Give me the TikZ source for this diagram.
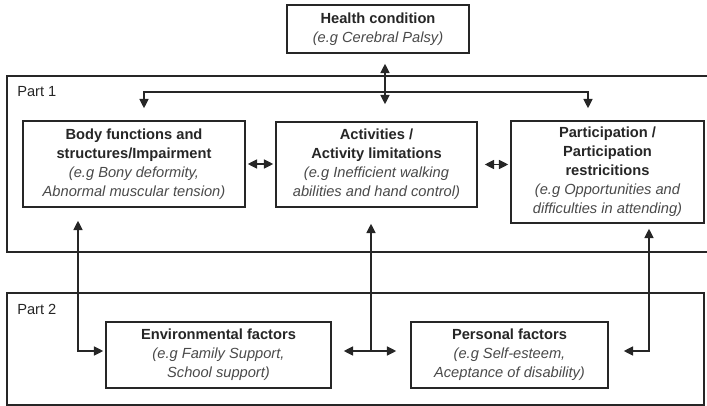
\documentclass[tikz,border=0pt]{standalone}
\usepackage{fontspec}
\setmainfont{Liberation Sans}
\usepackage{xcolor}
\definecolor{ink}{HTML}{262626}
\definecolor{note}{HTML}{4A4A4A}
\usepackage{tikz}
\usetikzlibrary{arrows.meta,positioning,calc}
\newcommand{\egline}[1]{{\color{note}\itshape #1}}
\tikzset{
  >={Triangle[length=7pt,width=6.8pt]},
  box/.style   ={draw=ink,line width=1.1pt,fill=white,align=center,
                 inner sep=2pt,text=ink},
  frame/.style ={draw=ink,line width=1.1pt},
  link/.style  ={draw=ink,line width=1.1pt},
  lbl/.style   ={text=ink,inner sep=1.5pt,anchor=west},
}

\begin{document}
\begin{tikzpicture}[x=0.75pt,y=-0.75pt,font=\fontsize{11}{14.25}\selectfont]
\useasboundingbox (0,0) rectangle (707,406);
% part frames
\draw[frame] (7,76) rectangle (712,252);
\draw[frame] (7,293) rectangle (704,405);
\node[lbl] (p1lbl) at (15,92) {Part 1};
\node[lbl] (p2lbl) at (15,309) {Part 2};
% boxes
\node[box,minimum width=136.5pt,minimum height=36pt] (health) at (378,29)
  {\textbf{Health condition}\\ \egline{(e.g Cerebral Palsy)}};
\node[box,minimum width=166.5pt,minimum height=64.5pt] (body) at (134,164)
  {\textbf{Body functions and}\\ \textbf{structures/Impairment}\\
   \egline{(e.g Bony deformity,}\\ \egline{Abnormal muscular tension)}};
\node[box,minimum width=150.75pt,minimum height=63.75pt] (act) at (376.5,164.5)
  {\textbf{Activities /}\\ \textbf{Activity limitations}\\
   \egline{(e.g Inefficient walking}\\ \egline{abilities and hand control)}};
\node[box,minimum width=144.75pt,minimum height=76.5pt] (part) at (607.5,172)
  {\textbf{Participation /}\\ \textbf{Participation}\\ \textbf{restricitions}\\
   \egline{(e.g Opportunities and}\\ \egline{difficulties in attending)}};
\node[box,minimum width=168.75pt,minimum height=49.5pt] (env) at (218.5,355)
  {\textbf{Environmental factors}\\ \egline{(e.g Family Support,}\\ \egline{School support)}};
\node[box,minimum width=147.75pt,minimum height=49.5pt] (pers) at (509.5,355)
  {\textbf{Personal factors}\\ \egline{(e.g Self-esteem,}\\ \egline{Aceptance of disability)}};
% junctions
\coordinate (hub) at (385,92);
\coordinate (bdrop) at (144,92);
\coordinate (pdrop) at (588,92);
\coordinate (lj) at (78,351);
\coordinate (mj) at (371,351);
\coordinate (rj) at (649,351);
% part 1 links
\draw[link,<->,shorten <=7.5pt,shorten >=12.75pt] (health.south -| hub) -- (hub |- act.north);
\draw[link,->,shorten >=9pt] (hub) -- (bdrop) -- (bdrop |- body.north);
\draw[link,->,shorten >=9pt] (hub) -- (pdrop) -- (pdrop |- part.north);
\draw[link,<->,shorten <=1.5pt,shorten >=1.5pt] (body.east) -- (body.east -| act.west);
\draw[link,<->,shorten <=5.25pt,shorten >=1.5pt] (act.east) -- (act.east -| part.west);
% part 2 links
\draw[link,<->,shorten <=9.75pt,shorten >=1.5pt] (lj |- body.south) -- (lj) -- (lj -| env.west);
\draw[link,->,shorten >=12pt] (mj) -- (mj |- act.south);
\draw[link,<->,shorten <=9pt,shorten >=10.5pt] (mj -| env.east) -- (mj -| pers.west);
\draw[link,<->,shorten <=3.75pt,shorten >=11.25pt] (rj |- part.south) -- (rj) -- (rj -| pers.east);
\end{tikzpicture}
\end{document}
